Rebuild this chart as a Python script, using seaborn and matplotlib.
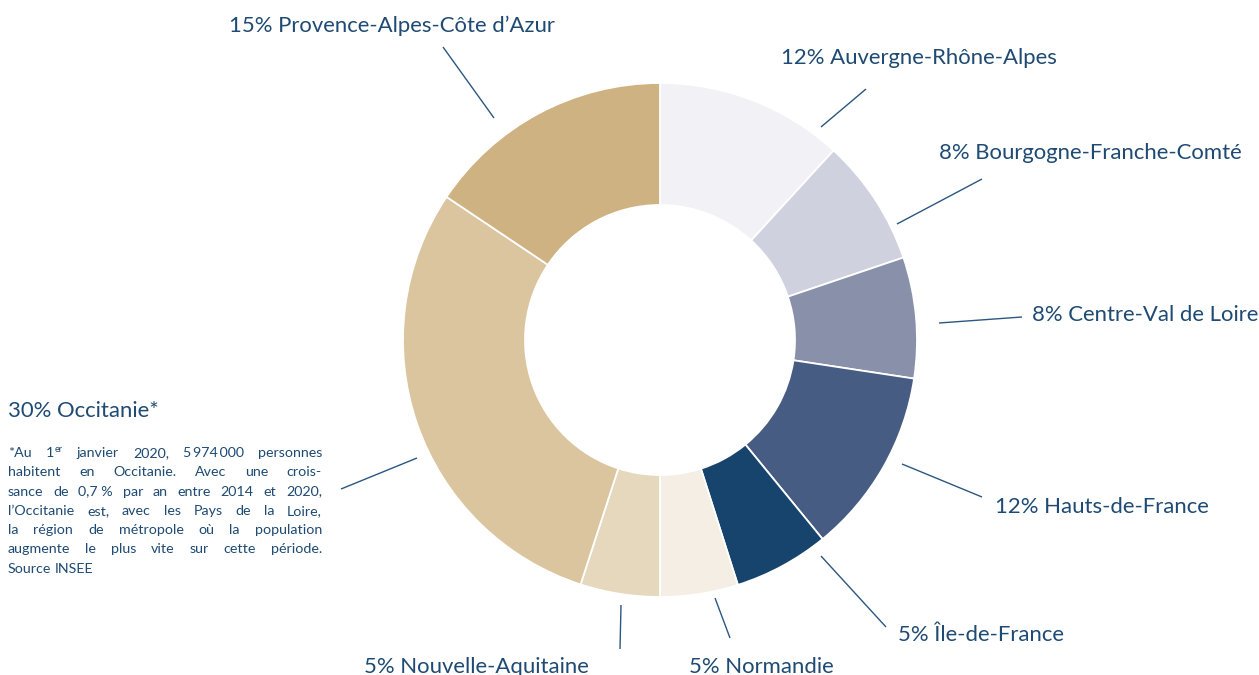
import matplotlib
matplotlib.use('Agg')
import matplotlib.pyplot as plt
import seaborn as sns

sns.set_style('white')
FONT = ['Lato', 'DejaVu Sans']
plt.rcParams['font.family'] = FONT

# Data
regions = ['Auvergne-Rhône-Alpes', 'Bourgogne-Franche-Comté', 'Centre-Val de Loire',
           'Hauts-de-France', 'Île-de-France', 'Normandie', 'Nouvelle-Aquitaine',
           'Occitanie', 'Provence-Alpes-Côte d\u2019Azur']
# slice sizes as read from the ring (labels show the rounded figures)
shares = [11.8, 8.0, 7.6, 11.7, 6.0, 4.9, 5.0, 29.4, 15.6]
pct_labels = [12, 8, 8, 12, 5, 5, 5, 30, 15]
colors = ['#F1F1F6', '#D0D1DE', '#8890AA', '#465C82', '#17446C',
          '#F4EEE4', '#E5D8BD', '#DAC59F', '#CEB281']
footnote = [
    '*Au 1er janvier 2020, 5\u2009974\u2009000 personnes',
    'habitent en Occitanie. Avec une crois-',
    'sance de 0,7\u00a0% par an entre 2014 et 2020,',
    'l\u2019Occitanie est, avec les Pays de la Loire,',
    'la région de métropole où la population',
    'augmente le plus vite sur cette période.',
    'Source INSEE',
]

TXT = '#1E4A73'
LINE = '#2B5680'

W, H = 1259, 675
fig = plt.figure(figsize=(W / 100, H / 100), dpi=100)
ax = fig.add_axes([0, 0, 1, 1])

pal = sns.color_palette(colors)
ax.pie(shares, colors=pal, startangle=-90, counterclock=True,
       center=(660, 340), radius=257,
       wedgeprops=dict(width=122, edgecolor='white', linewidth=1.3))
ax.set_xlim(0, W)
ax.set_ylim(H, 0)
ax.set_aspect('equal')
ax.axis('off')

# labels: (x, baseline, line start, line end)
places = [
    (781, 64, (866, 89), (821, 127)),
    (939, 159, (982, 179), (897, 224)),
    (1032, 321, (1022, 317), (939, 323)),
    (995, 513, (902, 464), (982, 497)),
    (898, 641, (821, 556), (886, 627)),
    (689, 673, (715, 598), (730, 638)),
    (364, 673, (621, 605), (620, 649)),
    (8, 417, (417, 458), (341, 489)),
    (229, 32, (443, 47), (494, 118)),
]
for name, pct, (x, y, p0, p1) in zip(regions, pct_labels, places):
    txt = f'{pct}% {name}' + ('*' if name == 'Occitanie' else '')
    ax.text(x, y, txt, fontsize=15.9, color=TXT, ha='left', va='baseline')
    ax.plot([p0[0], p1[0]], [p0[1], p1[1]], color=LINE, lw=1.0, solid_capstyle='butt')

# justified footnote
r = fig.canvas.get_renderer()
FS = 10.3


def width(s, size=FS):
    t = ax.text(0, 0, s, fontsize=size)
    w = t.get_window_extent(r).width
    t.remove()
    return w


x0, x1 = 8, 322
y = 457
for i, line in enumerate(footnote):
    words = line.split(' ')
    ws = []
    for w in words:
        if w == '1er':
            ws.append(width('1') + width('er', 6.5) + 1)
        else:
            ws.append(width(w))
    last = i == len(footnote) - 1
    gap = width(' ') if last else (x1 - x0 - sum(ws)) / (len(words) - 1)
    x = x0
    for w, wd in zip(words, ws):
        if w == '1er':
            ax.text(x, y, '1', fontsize=FS, color=TXT, va='baseline')
            ax.text(x + width('1') + 1, y - 5, 'er', fontsize=6.5, color=TXT, va='baseline')
        else:
            ax.text(x, y, w, fontsize=FS, color=TXT, va='baseline')
        x += wd + gap
    y += 19.3

fig.savefig('out.png', dpi=100)
